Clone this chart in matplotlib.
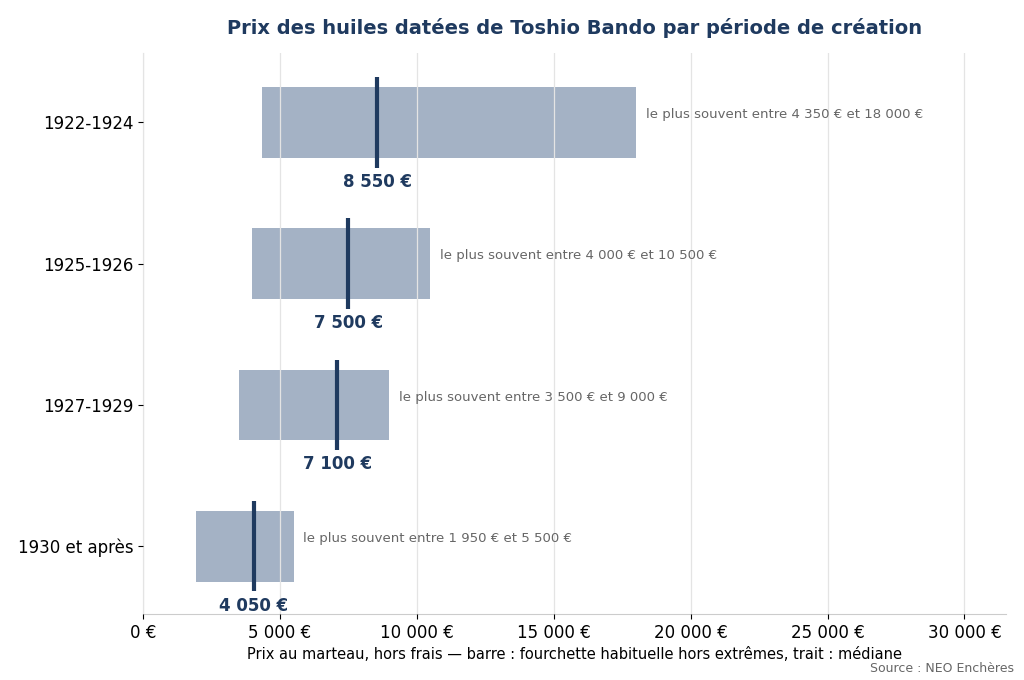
import matplotlib.pyplot as plt
import numpy as np

# Data
periods = ['1922-1924', '1925-1926', '1927-1929', '1930 et après']
low = [4350, 4000, 3500, 1950]
high = [18000, 10500, 9000, 5500]
median = [8550, 7500, 7100, 4050]
xticks = [0, 5000, 10000, 15000, 20000, 25000, 30000]


def fmt(v):
    return f'{v:,.0f}'.replace(',', ' ') + ' €'


navy = '#1f3a5f'

fig = plt.figure(figsize=(10.24, 6.8), dpi=100)
ax = fig.add_axes([0.1396, 0.097, 0.8424, 0.825])

y = np.arange(len(periods))
ax.barh(y, np.array(high) - np.array(low), left=low, height=0.5,
        color='#a4b2c5', zorder=1)
ax.vlines(median, y - 0.32, y + 0.32, color=navy, linewidth=3, zorder=3)

for i in range(len(periods)):
    ax.text(median[i], y[i] + 0.42, fmt(median[i]), ha='center', va='center',
            fontsize=12, fontweight='bold', color=navy, zorder=4)
    ax.annotate(f'le plus souvent entre {fmt(low[i])} et {fmt(high[i])}',
                xy=(high[i], y[i]), xytext=(7, 5.5), textcoords='offset points',
                ha='left', va='center', fontsize=9.5, color='#666666')

ax.set_yticks(y)
ax.set_yticklabels(periods, fontsize=12)
ax.set_xticks(xticks)
ax.set_xticklabels([fmt(v) for v in xticks], fontsize=12)
ax.set_xlim(0, 31500)
ax.set_ylim(3.48, -0.49)

ax.grid(axis='x', color='#e4e4e4', linewidth=0.9, zorder=2)
ax.set_axisbelow(False)
for s in ['top', 'right']:
    ax.spines[s].set_visible(False)
ax.spines['left'].set_color('#cccccc')
ax.spines['bottom'].set_color('#cccccc')

ax.set_xlabel('Prix au marteau, hors frais — barre : fourchette habituelle hors extrêmes, trait : médiane',
              fontsize=10.5)
ax.set_title('Prix des huiles datées de Toshio Bando par période de création',
             fontsize=14, fontweight='bold', color=navy, pad=14)
fig.text(0.99, 0.008, 'Source : NEO Enchères', ha='right', va='bottom',
         fontsize=9, color='#666666')

fig.savefig('out.png', dpi=100)
